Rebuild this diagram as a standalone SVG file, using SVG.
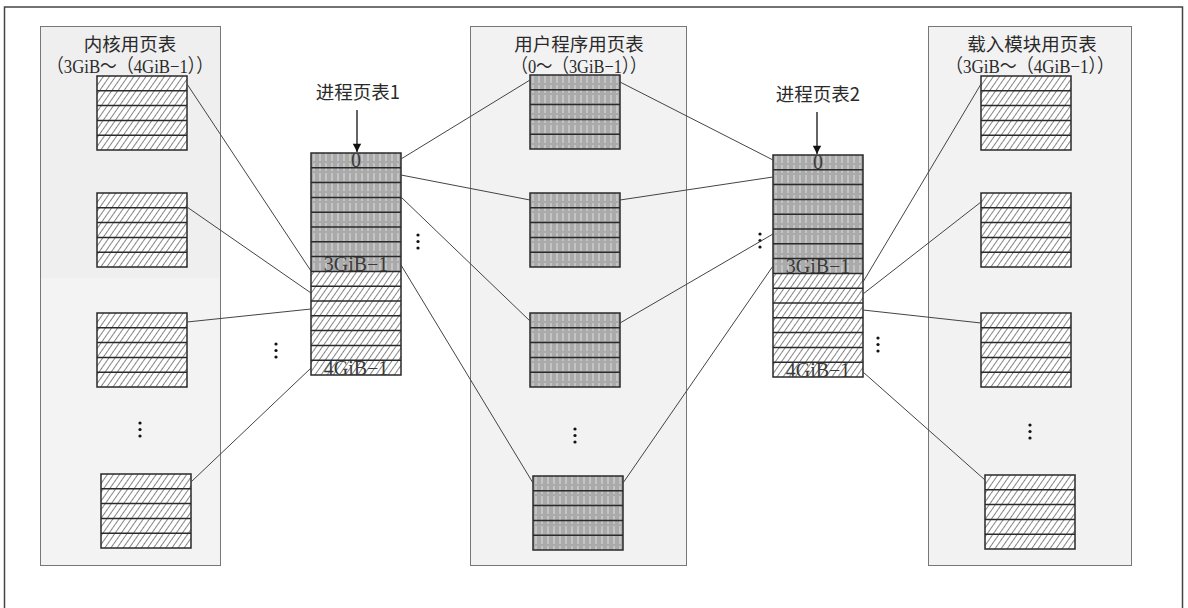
<svg xmlns="http://www.w3.org/2000/svg" width="1188" height="608" viewBox="0 0 1188 608">
<style>
.frame{fill:none;stroke:#444;stroke-width:1.5}
.panel{stroke:#777;stroke-width:1}
#connectors line{stroke:#444;stroke-width:1}
.zh{font-family:"Noto Sans CJK SC","Noto Sans",sans-serif;font-size:18.5px;fill:#2a2a2a;text-anchor:middle}
.rng{font-family:"Liberation Serif","Noto Sans CJK SC",serif;font-size:19px;fill:#2a2a2a}
.cell{font-family:"Liberation Serif","Noto Sans CJK SC",serif;font-size:20px;fill:#3a3a3a;text-anchor:middle}
.rowl{stroke:#2a2a2a;stroke-width:1.5}
.bord{fill:none;stroke:#2a2a2a;stroke-width:1.5}
.arrow{stroke:#111;stroke-width:1.3}
</style>
<defs>
<pattern id="hatch" width="5" height="10" patternUnits="userSpaceOnUse" patternTransform="rotate(35)">
<rect width="5" height="10" fill="#fff"/>
<line x1="0.5" y1="0" x2="0.5" y2="10" stroke="#666" stroke-width="0.8"/>
</pattern>
<pattern id="gray" width="6" height="10" patternUnits="userSpaceOnUse">
<rect width="6" height="10" fill="#aaaaaa"/>
<line x1="3" y1="0" x2="3" y2="8" stroke="#dedede" stroke-width="1"/>
</pattern>
<g id="htab">
<rect x="0" y="0" width="90" height="74" fill="url(#hatch)"/>
<line class="rowl" x1="0" y1="14.8" x2="90" y2="14.8"/>
<line class="rowl" x1="0" y1="29.6" x2="90" y2="29.6"/>
<line class="rowl" x1="0" y1="44.4" x2="90" y2="44.4"/>
<line class="rowl" x1="0" y1="59.2" x2="90" y2="59.2"/>
<rect class="bord" x="0" y="0" width="90" height="74"/>
</g>
<g id="gtab">
<rect x="0" y="0" width="90" height="74" fill="url(#gray)"/>
<line class="rowl" x1="0" y1="14.8" x2="90" y2="14.8"/>
<line class="rowl" x1="0" y1="29.6" x2="90" y2="29.6"/>
<line class="rowl" x1="0" y1="44.4" x2="90" y2="44.4"/>
<line class="rowl" x1="0" y1="59.2" x2="90" y2="59.2"/>
<rect class="bord" x="0" y="0" width="90" height="74"/>
</g>
<g id="ptab">
<rect x="0" y="0" width="90" height="118.4" fill="url(#gray)"/>
<rect x="0" y="118.4" width="90" height="103.6" fill="url(#hatch)"/>
<line class="rowl" x1="0" y1="14.8" x2="90" y2="14.8"/>
<line class="rowl" x1="0" y1="29.6" x2="90" y2="29.6"/>
<line class="rowl" x1="0" y1="44.4" x2="90" y2="44.4"/>
<line class="rowl" x1="0" y1="59.2" x2="90" y2="59.2"/>
<line class="rowl" x1="0" y1="74" x2="90" y2="74"/>
<line class="rowl" x1="0" y1="88.8" x2="90" y2="88.8"/>
<line class="rowl" x1="0" y1="103.6" x2="90" y2="103.6"/>
<line class="rowl" x1="0" y1="118.4" x2="90" y2="118.4"/>
<line class="rowl" x1="0" y1="133.2" x2="90" y2="133.2"/>
<line class="rowl" x1="0" y1="148" x2="90" y2="148"/>
<line class="rowl" x1="0" y1="162.8" x2="90" y2="162.8"/>
<line class="rowl" x1="0" y1="177.6" x2="90" y2="177.6"/>
<line class="rowl" x1="0" y1="192.4" x2="90" y2="192.4"/>
<line class="rowl" x1="0" y1="207.2" x2="90" y2="207.2"/>
<rect class="bord" x="0" y="0" width="90" height="222"/>
<text class="cell" x="45" y="14">0</text>
<text class="cell" x="45" y="117.5">3GiB−1</text>
<text class="cell" x="45" y="221.5">4GiB−1</text>
</g>
<g id="vdots" fill="#111">
<circle cx="0" cy="0" r="1.6"/>
<circle cx="0" cy="6.5" r="1.6"/>
<circle cx="0" cy="13" r="1.6"/>
</g>
<marker id="arrowhead" viewBox="0 0 10 12" refX="10" refY="6" markerWidth="12" markerHeight="10" markerUnits="userSpaceOnUse" orient="auto">
<path d="M0,1 L10,6 L0,11 z" fill="#111"/>
</marker>
</defs>

<rect width="1188" height="608" fill="#fff"/>
<path class="frame" d="M4.5,612 V7 H1182.5 V612"/>

<g id="kernel-panel">
<rect class="panel" x="40.5" y="26.5" width="180" height="539" fill="#f3f3f3"/>
<rect x="41" y="27" width="179" height="251" fill="#efefef"/>
<text class="zh" x="130" y="50.5">内核用页表</text>
<text class="rng" x="130" y="73" text-anchor="middle" textLength="166" lengthAdjust="spacingAndGlyphs">（3GiB～（4GiB−1））</text>
<use href="#htab" x="97" y="76"/>
<use href="#htab" x="97" y="193"/>
<use href="#htab" x="97" y="313"/>
<use href="#vdots" x="140" y="423"/>
<use href="#htab" x="101" y="474"/>
</g>

<g id="user-panel">
<rect class="panel" x="470.5" y="26.5" width="216" height="539" fill="#f2f2f2"/>
<text class="zh" x="579" y="50.5">用户程序用页表</text>
<text class="rng" x="579" y="73" text-anchor="middle" textLength="135" lengthAdjust="spacingAndGlyphs">（0～（3GiB−1））</text>
<use href="#gtab" x="530" y="75"/>
<use href="#gtab" x="530" y="193"/>
<use href="#gtab" x="530" y="313"/>
<use href="#vdots" x="575" y="429"/>
<use href="#gtab" x="533" y="476"/>
</g>

<g id="module-panel">
<rect class="panel" x="928.5" y="26.5" width="203" height="539" fill="#f2f2f2"/>
<text class="zh" x="1032" y="50.5">载入模块用页表</text>
<text class="rng" x="1030" y="73" text-anchor="middle" textLength="168" lengthAdjust="spacingAndGlyphs">（3GiB～（4GiB−1））</text>
<use href="#htab" x="981" y="76"/>
<use href="#htab" x="981" y="193"/>
<use href="#htab" x="981" y="313"/>
<use href="#vdots" x="1030" y="425"/>
<use href="#htab" x="985" y="475"/>
</g>

<g id="process-table-1">
<text class="zh" x="358" y="99">进程页表1</text>
<line class="arrow" x1="357" y1="110" x2="357" y2="152" marker-end="url(#arrowhead)"/>
<use href="#ptab" x="311" y="153"/>
<use href="#vdots" x="276" y="344"/>
<use href="#vdots" x="418" y="235"/>
</g>

<g id="process-table-2">
<text class="zh" x="818" y="101">进程页表2</text>
<line class="arrow" x1="817" y1="112" x2="817" y2="154" marker-end="url(#arrowhead)"/>
<use href="#ptab" x="773" y="155"/>
<use href="#vdots" x="760" y="234"/>
<use href="#vdots" x="878" y="338"/>
</g>

<g id="connectors">
<line x1="187" y1="84" x2="311" y2="271"/>
<line x1="187" y1="207" x2="311" y2="293"/>
<line x1="187" y1="322" x2="311" y2="309"/>
<line x1="191" y1="482" x2="311" y2="368"/>
<line x1="401" y1="159" x2="530" y2="80"/>
<line x1="401" y1="175" x2="530" y2="200"/>
<line x1="401" y1="197" x2="530" y2="321"/>
<line x1="401" y1="265" x2="533" y2="483"/>
<line x1="620" y1="82" x2="773" y2="160"/>
<line x1="620" y1="200" x2="773" y2="177"/>
<line x1="620" y1="323" x2="773" y2="234"/>
<line x1="623" y1="483" x2="773" y2="266"/>
<line x1="863" y1="282" x2="981" y2="84"/>
<line x1="863" y1="294" x2="981" y2="202"/>
<line x1="863" y1="310" x2="981" y2="323"/>
<line x1="863" y1="372" x2="985" y2="480"/>
</g>
</svg>
